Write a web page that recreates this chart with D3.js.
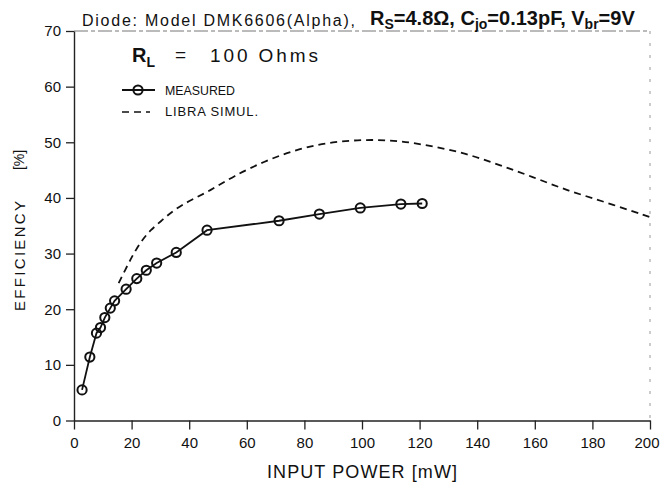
<!DOCTYPE html>
<html>
<head>
<meta charset="utf-8">
<script src="https://cdn.jsdelivr.net/npm/d3@7"></script>
<style>
  body { margin: 0; background: #fff; }
  svg text { font-family: "Liberation Sans", Arial, sans-serif; fill: #111; }
</style>
</head>
<body>
<svg id="chart" width="660" height="485"></svg>
<script>
// measured efficiency, input power in mW
var measPower = [2.8, 5.5, 7.8, 9.2, 10.7, 12.6, 14.1, 18.1, 21.8, 25.1, 28.7, 35.5, 46.2, 71.2, 85.2, 99.4, 113.5, 120.9];
var measEff   = [5.5, 11.4, 15.7, 16.7, 18.5, 20.2, 21.5, 23.6, 25.5, 27.0, 28.3, 30.2, 34.2, 35.9, 37.1, 38.2, 38.9, 39.0];

// libra simulation (dashed)
var simPower = [15.5, 18.4, 20.7, 23.6, 26.5, 30.6, 34.6, 40.4, 47.3, 55.3, 66.9, 78.5, 89.9, 101.6, 113.1, 124.6, 136.2, 147.8, 159.2, 170.9, 182.4, 199.8];
var simEff   = [24.7, 27.7, 30.0, 32.4, 34.2, 36.0, 37.8, 39.6, 41.3, 43.9, 46.8, 48.9, 50.1, 50.5, 50.3, 49.3, 48.0, 45.9, 43.8, 41.4, 39.6, 36.6];

var xTicks = [0, 20, 40, 60, 80, 100, 120, 140, 160, 180, 200];
var yTicks = [0, 10, 20, 30, 40, 50, 60, 70];

var svg = d3.select("#chart");

var x = d3.scaleLinear().domain([0, 200]).range([74, 650]);
var y = d3.scaleLinear().domain([0, 70]).range([420.5, 31]);

// frame top + right are faint in the scan
svg.append("line")
    .attr("x1", x(0)).attr("x2", x(200))
    .attr("y1", y(70)).attr("y2", y(70))
    .attr("stroke", "#777").attr("stroke-width", 1)
    .attr("stroke-dasharray", "14,3,4,3");
svg.append("line")
    .attr("x1", x(200)).attr("x2", x(200))
    .attr("y1", y(70)).attr("y2", y(0))
    .attr("stroke", "#999").attr("stroke-width", 1)
    .attr("stroke-dasharray", "3,9");

var xAxis = d3.axisBottom(x).tickValues(xTicks).tickSize(9).tickPadding(8).tickSizeOuter(0);
var yAxis = d3.axisLeft(y).tickValues(yTicks).tickSize(8).tickPadding(5).tickSizeOuter(0);

var gx = svg.append("g").attr("transform", "translate(0," + y(0) + ")").call(xAxis);
var gy = svg.append("g").attr("transform", "translate(" + x(0) + ",0)").call(yAxis);

[gx, gy].forEach(function(g) {
  g.select(".domain").attr("stroke", "#222").attr("stroke-width", 1.4);
  g.selectAll(".tick line").attr("stroke", "#222").attr("stroke-width", 1.3);
  g.selectAll(".tick text")
      .attr("font-size", 15)
      .attr("font-family", "Liberation Sans, Arial, sans-serif")
      .attr("fill", "#111");
});
// last label sits right at the page edge
gx.selectAll(".tick text").filter(function(d) { return d == 200; })
    .attr("text-anchor", "end").attr("dx", 9);

// simulation curve
var simLine = d3.line()
    .x(function(d, i) { return x(simPower[i]); })
    .y(function(d, i) { return y(simEff[i]); })
    .curve(d3.curveBasis);

svg.append("path")
    .datum(simEff)
    .attr("d", simLine)
    .attr("fill", "none")
    .attr("stroke", "#111")
    .attr("stroke-width", 1.8)
    .attr("stroke-dasharray", "7,5");

// measured
var measLine = d3.line()
    .x(function(d, i) { return x(measPower[i]); })
    .y(function(d, i) { return y(measEff[i]); });

svg.append("path")
    .datum(measEff)
    .attr("d", measLine)
    .attr("fill", "none")
    .attr("stroke", "#111")
    .attr("stroke-width", 1.8);

svg.selectAll(".pt")
    .data(measEff)
    .enter().append("circle")
    .attr("class", "pt")
    .attr("cx", function(d, i) { return x(measPower[i]); })
    .attr("cy", function(d) { return y(d); })
    .attr("r", 4.6)
    .attr("fill", "none")
    .attr("stroke", "#111")
    .attr("stroke-width", 2);

// title
svg.append("text")
    .attr("x", 82).attr("y", 26)
    .attr("font-size", 16)
    .attr("textLength", 273).attr("lengthAdjust", "spacing")
    .text("Diode:  Model  DMK6606(Alpha),");

var t2 = svg.append("text")
    .attr("x", 370).attr("y", 25)
    .attr("font-size", 20).attr("font-weight", "bold");
t2.append("tspan").text("R");
t2.append("tspan").attr("font-size", 14).attr("dy", 4).text("S");
t2.append("tspan").attr("dy", -4).text("=4.8\u03A9, C");
t2.append("tspan").attr("font-size", 14).attr("dy", 4).text("jo");
t2.append("tspan").attr("dy", -4).text("=0.13pF, V");
t2.append("tspan").attr("font-size", 14).attr("dy", 4).text("br");
t2.append("tspan").attr("dy", -4).text("=9V");

// RL label
var rl = svg.append("text")
    .attr("x", 132).attr("y", 62)
    .attr("font-size", 20).attr("font-weight", "bold");
rl.append("tspan").text("R");
rl.append("tspan").attr("font-size", 14).attr("dy", 5).text("L");
svg.append("text").attr("x", 175).attr("y", 61).attr("font-size", 19).text("=");
svg.append("text")
    .attr("x", 210).attr("y", 62)
    .attr("font-size", 19)
    .attr("textLength", 108).attr("lengthAdjust", "spacing")
    .text("100  Ohms");

// legend
svg.append("line")
    .attr("x1", 122).attr("x2", 155).attr("y1", 90).attr("y2", 90)
    .attr("stroke", "#111").attr("stroke-width", 1.8);
svg.append("circle")
    .attr("cx", 138).attr("cy", 90).attr("r", 4.6)
    .attr("fill", "none").attr("stroke", "#111").attr("stroke-width", 2);
svg.append("text")
    .attr("x", 165).attr("y", 95).attr("font-size", 13)
    .attr("textLength", 70).attr("lengthAdjust", "spacingAndGlyphs")
    .text("MEASURED");

svg.append("line")
    .attr("x1", 122).attr("x2", 150).attr("y1", 112).attr("y2", 112)
    .attr("stroke", "#111").attr("stroke-width", 1.5)
    .attr("stroke-dasharray", "7,5");
svg.append("text")
    .attr("x", 165).attr("y", 116).attr("font-size", 13)
    .attr("textLength", 93).attr("lengthAdjust", "spacing")
    .text("LIBRA  SIMUL.");

// axis titles
svg.append("text")
    .attr("transform", "translate(25,256) rotate(-90)")
    .attr("text-anchor", "middle")
    .attr("font-size", 15)
    .attr("textLength", 110).attr("lengthAdjust", "spacing")
    .text("EFFICIENCY");
svg.append("text")
    .attr("transform", "translate(24,160) rotate(-90)")
    .attr("text-anchor", "middle")
    .attr("font-size", 14)
    .text("[%]");

svg.append("text")
    .attr("x", 267).attr("y", 478)
    .attr("font-size", 18)
    .attr("textLength", 190).attr("lengthAdjust", "spacing")
    .text("INPUT  POWER   [mW]");
</script>
</body>
</html>
